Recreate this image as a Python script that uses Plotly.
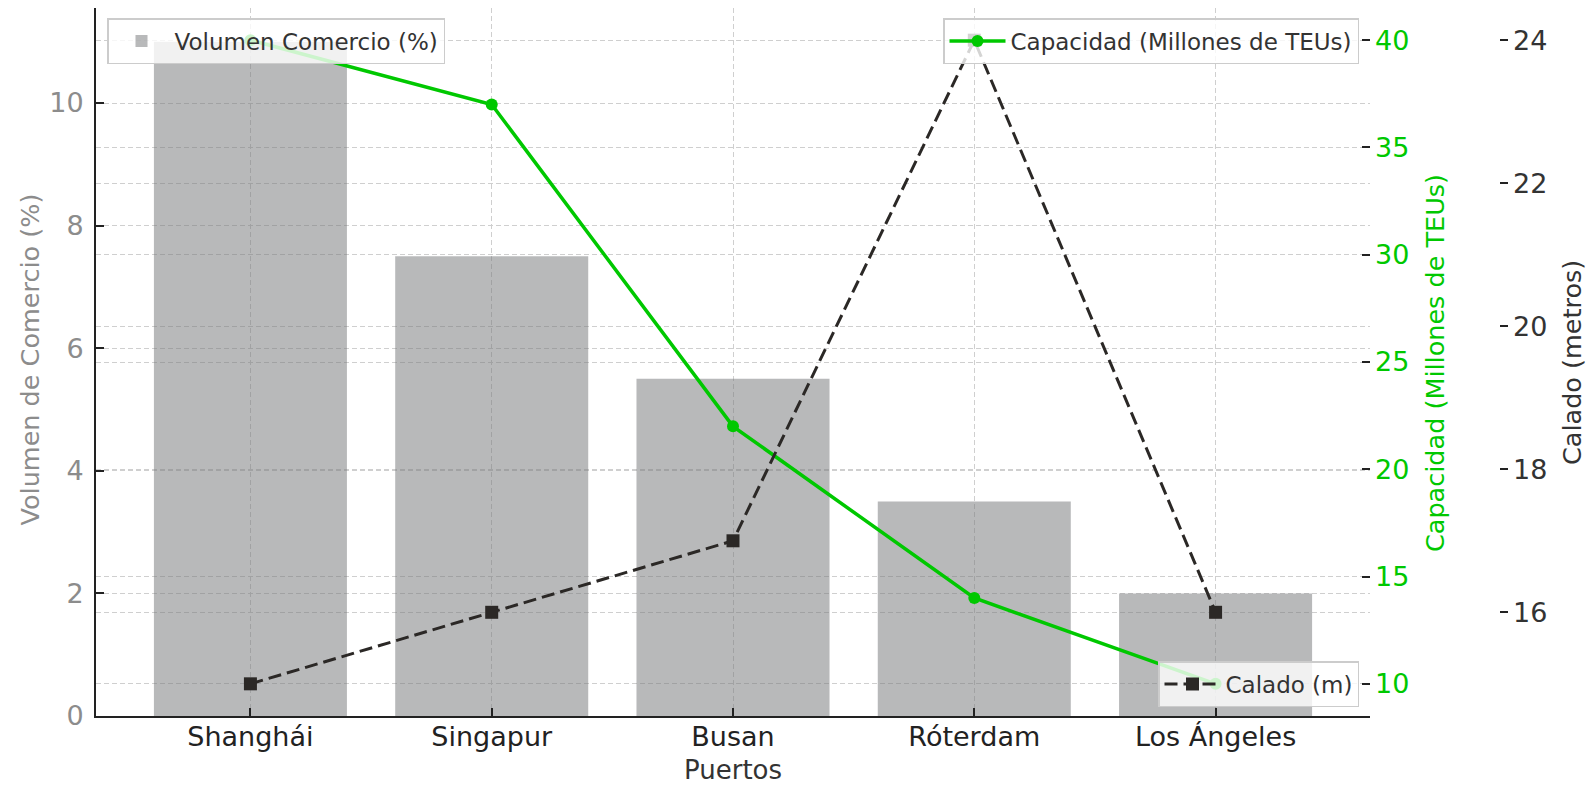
import plotly.graph_objects as go

puertos = ["Shanghái", "Singapur", "Busan", "Róterdam", "Los Ángeles"]
volumen = [11, 7.5, 5.5, 3.5, 2.0]
capacidad = [40, 37, 22, 14, 10]
calado = [15, 16, 17, 24, 16]

vol_ticks = [0, 2, 4, 6, 8, 10]
cap_ticks = [10, 15, 20, 25, 30, 35, 40]
cal_ticks = [16, 18, 20, 22, 24]

GREEN = "#00c800"
DARK = "#2b2826"
GRAY_TXT = "#8c8c8c"
GRID = "#cfcfcf"
FONT = "DejaVu Sans"

W, H = 1588, 786
ML, MR, MT, MB = 96, 0, 8, 70
paper_w = W - ML - MR
paper_h = H - MT - MB
plot_right = 1370
dom_end = (plot_right - ML) / paper_w
calado_pos = (1508 - ML) / paper_w


def px_x(px):
    return (px - ML) / paper_w


def px_y(py):
    return (H - MB - py) / paper_h


fig = go.Figure()
fig.add_trace(go.Bar(
    x=puertos, y=volumen, name="Volumen Comercio (%)",
    marker=dict(color="rgba(118,120,123,0.52)", line=dict(width=0)),
    width=0.8, legend="legend", showlegend=True,
))
fig.add_trace(go.Scatter(
    x=puertos, y=capacidad, yaxis="y2", mode="lines+markers",
    line=dict(color=GREEN, width=3.5), marker=dict(color=GREEN, size=12),
    name="Capacidad (Millones de TEUs)", legend="legend2", showlegend=True,
))
fig.add_trace(go.Scatter(
    x=puertos, y=calado, yaxis="y3", mode="lines+markers",
    line=dict(color=DARK, width=3, dash="13px,6px"),
    marker=dict(color=DARK, size=13, symbol="square"),
    name="Calado (m)", legend="legend3", showlegend=True,
))

grid = dict(showgrid=True, gridcolor=GRID, griddash="5px,3px", gridwidth=1, automargin=False)
tick_common = dict(ticks="inside", ticklen=8, tickwidth=2, tickcolor="#222")

leg_common = dict(
    font=dict(family=FONT, size=23, color="#333"),
    bgcolor="rgba(255,255,255,0.8)", bordercolor="#cccccc", borderwidth=1.5,
    itemwidth=56,
)

title_font = dict(family=FONT, size=25.5)

fig.update_layout(
    width=W, height=H, autosize=False,
    margin=dict(l=ML, r=MR, t=MT, b=MB, autoexpand=False),
    paper_bgcolor="white", plot_bgcolor="white",
    font=dict(family=FONT, size=22, color="#333"),
    showlegend=True,
    xaxis=dict(
        domain=[0, dom_end], type="category", range=[-0.64, 4.64],
        showline=True, linecolor="#222", linewidth=2,
        tickfont=dict(family=FONT, size=27, color="#222"),
        ticklabelstandoff=-4,
        **tick_common, **grid,
    ),
    yaxis=dict(
        range=[0, 11.55], tickvals=vol_ticks,
        showline=True, linecolor="#222", linewidth=2, zeroline=False,
        tickfont=dict(family=FONT, size=27, color=GRAY_TXT),
        ticklabelstandoff=5,
        **tick_common, **grid,
    ),
    yaxis2=dict(
        overlaying="y", side="right", anchor="x",
        range=[8.5, 41.5], tickvals=cap_ticks,
        showline=False, zeroline=False,
        tickfont=dict(family=FONT, size=27, color=GREEN),
        ticklabelstandoff=4,
        **tick_common, **grid,
    ),
    yaxis3=dict(
        overlaying="y", side="right", anchor="free", position=calado_pos,
        range=[14.55, 24.45], tickvals=cal_ticks,
        showline=False, zeroline=False,
        tickfont=dict(family=FONT, size=27, color="#333"),
        ticklabelstandoff=4,
        **tick_common, **grid,
    ),
    legend=dict(x=px_x(107), y=px_y(18), xanchor="left", yanchor="top", **leg_common),
    legend2=dict(x=px_x(1359), y=px_y(18), xanchor="right", yanchor="top", **leg_common),
    legend3=dict(x=px_x(1359), y=px_y(707), xanchor="right", yanchor="bottom", **leg_common),
    annotations=[
        dict(text="Puertos", xref="paper", yref="paper", x=px_x((96 + 1370) / 2), y=px_y(770),
             xanchor="center", yanchor="middle", showarrow=False, borderpad=0,
             font=dict(family=FONT, size=26, color="#333")),
        dict(text="Volumen de Comercio (%)", xref="paper", yref="paper", x=px_x(29.5), y=px_y(360),
             xanchor="center", yanchor="middle", textangle=-90, showarrow=False,
             font=dict(color=GRAY_TXT, **title_font)),
        dict(text="Capacidad (Millones de TEUs)", xref="paper", yref="paper", x=px_x(1435), y=px_y(363),
             xanchor="center", yanchor="middle", textangle=-90, showarrow=False,
             font=dict(color=GREEN, **title_font)),
        dict(text="Calado (metros)", xref="paper", yref="paper", x=px_x(1572), y=px_y(363),
             xanchor="center", yanchor="middle", textangle=-90, showarrow=False,
             font=dict(color="#333", **title_font)),
    ],
)

fig.write_html(
    "out.html",
    config={"displayModeBar": False},
    post_script="document.body.style.margin='0';document.body.style.overflow='hidden';",
)
